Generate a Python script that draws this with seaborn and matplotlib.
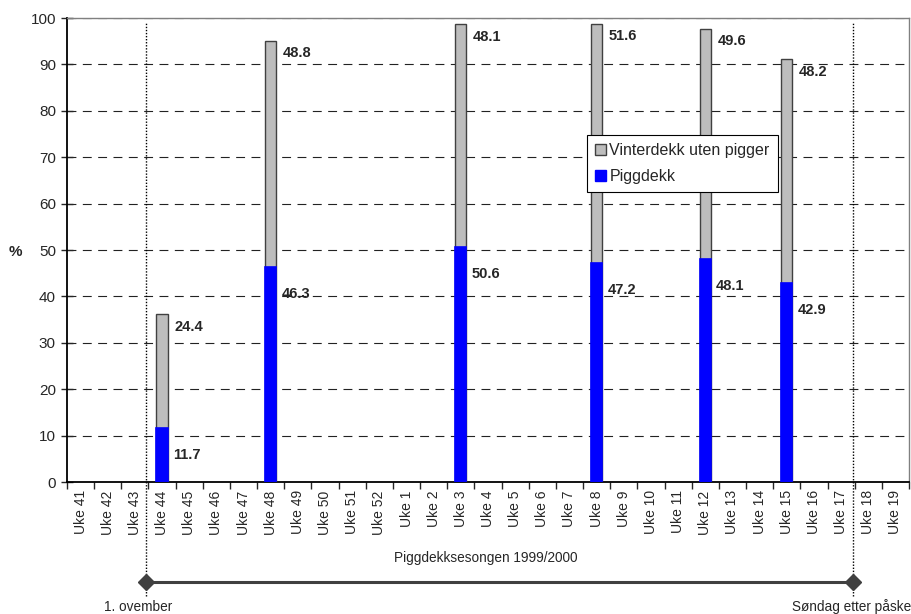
import matplotlib
matplotlib.use('Agg')
import matplotlib.pyplot as plt
import pandas as pd
import seaborn as sns
from matplotlib.patches import Patch

# week labels on the x axis
weeks = ['Uke %d' % w for w in list(range(41, 53)) + list(range(1, 20))]

# weeks with measurements
survey_weeks = ['Uke 44', 'Uke 48', 'Uke 3', 'Uke 8', 'Uke 12', 'Uke 15']
piggdekk = [11.7, 46.3, 50.6, 47.2, 48.1, 42.9]
uten_pigger = [24.4, 48.8, 48.1, 51.6, 49.6, 48.2]

season_start = '1. ovember'
season_end = 'Søndag etter påske'
season_text = 'Piggdekksesongen 1999/2000'

df = pd.DataFrame({'week': survey_weeks, 'pigg': piggdekk, 'uten': uten_pigger})
df['total'] = df['pigg'] + df['uten']

sns.set_style('white')
plt.rcParams['font.family'] = ['Liberation Sans', 'DejaVu Sans']

fig = plt.figure(figsize=(9.12, 6.14), dpi=100)
ax = fig.add_axes([67 / 912, 1 - 482 / 614, 842 / 912, 464 / 614])

# stacked bars: total (grey) first, then piggdekk (blue) over it
sns.barplot(data=df, x='week', y='total', order=weeks, color='#bdbdbd',
            edgecolor='#404040', linewidth=1, width=0.41, saturation=1, ax=ax, zorder=3)
sns.barplot(data=df, x='week', y='pigg', order=weeks, color='#0000ff',
            edgecolor='#0000ff', linewidth=1.2, width=0.41, saturation=1, ax=ax, zorder=4)

ax.set_xlim(-0.5, len(weeks) - 0.5)
ax.set_ylim(0, 100)
ax.set_yticks(range(0, 101, 10))
ax.yaxis.grid(True, linestyle=(0, (8, 5.8)), color='#222222', linewidth=0.8, zorder=0)
ax.set_axisbelow(True)
ax.tick_params(axis='y', direction='inout', length=8, width=1, labelsize=11, pad=4, left=True)
ax.tick_params(axis='x', which='major', length=0, labelsize=10, pad=6)
ax.set_xticks([i + 0.5 for i in range(-1, len(weeks))], minor=True)
ax.tick_params(axis='x', which='minor', direction='out', length=5, width=1, bottom=True)
plt.setp(ax.get_xticklabels(), rotation=90)
ax.set_xlabel('')
ax.set_ylabel('%', rotation=0, fontweight='bold', fontsize=11)
ax.yaxis.set_label_coords(-0.0618, 0.48)

for s in ['left', 'bottom']:
    ax.spines[s].set_color('black')
    ax.spines[s].set_linewidth(1.3)
for s in ['top', 'right']:
    ax.spines[s].set_color('#808080')
    ax.spines[s].set_linewidth(1)

# value labels
for _, r in df.iterrows():
    i = weeks.index(r['week'])
    ax.text(i + 0.45, r['total'] - 2.7, '%.1f' % r['uten'], fontsize=10.5, fontweight='bold',
            ha='left', va='center', zorder=5)
    ax.text(i + 0.4, r['pigg'] - 5.8, '%.1f' % r['pigg'], fontsize=10.5, fontweight='bold',
            ha='left', va='center', zorder=5)

# season markers
x0 = weeks.index('Uke 44') - 0.58
x1 = weeks.index('Uke 17') + 0.45
ax.vlines([x0, x1], -24.5, 99.2, colors='black', linestyles=(0, (1, 1.2)), linewidth=1,
          clip_on=False, zorder=6)
ax.plot([x0, x1], [-21.5, -21.5], color='#404040', linewidth=2.2, marker='D', markersize=8,
        clip_on=False, zorder=7)
ax.text((x0 + x1) / 2 - 0.5, -16.4, season_text, fontsize=9.8, ha='center', va='center')
ax.text(x0 - 0.3, -26.9, season_start, fontsize=9.8, ha='center', va='center')
ax.text(x1 - 0.05, -26.9, season_end, fontsize=9.8, ha='center', va='center')

handles = [Patch(facecolor='#bdbdbd', edgecolor='#404040', label='Vinterdekk uten pigger'),
           Patch(facecolor='#0000ff', edgecolor='#0000ff', label='Piggdekk')]
leg = ax.legend(handles=handles, loc='upper left', bbox_to_anchor=(0.6176, 0.748),
                borderaxespad=0, fancybox=False, framealpha=1, edgecolor='black',
                fontsize=11.5, handlelength=0.7, handleheight=0.7, handletextpad=0.2,
                labelspacing=0.7, borderpad=0.5)
leg.get_frame().set_linewidth(0.8)
leg.set_zorder(8)

fig.savefig('out.png', dpi=100)
